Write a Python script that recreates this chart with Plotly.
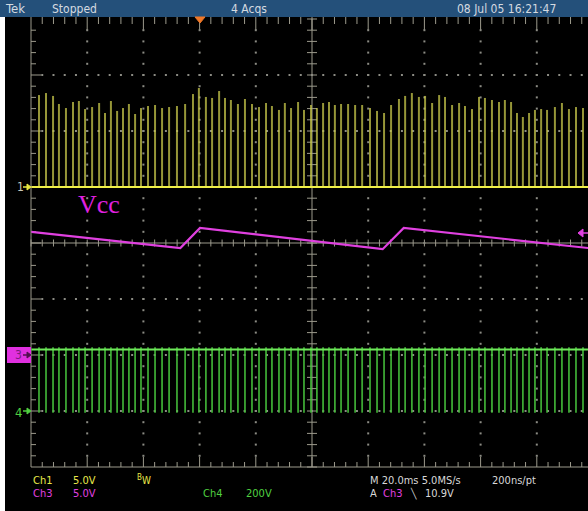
import plotly.graph_objects as go

W, H = 588, 511

# ---- screen geometry (pixels) ----
X_TRIG_PX = 200.0      # horizontal trigger position
X_DIV_PX = 56.2        # pixels per horizontal division
Y_DIV_PX = 56.0        # pixels per vertical division
GRAT_L, GRAT_T, GRAT_B = 31.0, 19.0, 467.0
GRAT_CX, GRAT_CY = 312.0, 243.0
MS_PER_DIV = 20.0

CH1_GND_PX, CH1_V_DIV = 187.0, 5.0
CH3_GND_PX, CH3_V_DIV = 355.0, 5.0
CH4_GND_PX, CH4_V_DIV = 411.0, 200.0

# ---- acquired data ----
# switching events (ms, relative to trigger)
switch_t_ms = [
    -57.3, -54.8, -52.3, -50.2, -47.7, -45.2, -43.1, -40.9, -38.4, -35.9,
    -33.8, -31.7, -29.5, -27.4, -25.3, -23.1, -21.0, -18.5, -16.0, -13.5,
    -11.0, -8.2, -5.3, -2.5, -0.4, 2.1, 4.3, 6.8, 8.9, 11.0,
    13.5, 16.0, 18.5, 21.0, 23.5, 25.6, 28.1, 30.2, 32.4, 34.9,
    37.0, 39.5, 41.6, 43.8, 45.9, 48.0, 50.2, 52.7, 55.2, 57.7,
    60.5, 63.0, 65.5, 68.0, 70.8, 73.0, 75.4, 77.9, 80.1, 82.6,
    85.1, 87.2, 89.7, 92.2, 94.3, 96.8, 99.3, 101.4, 103.9, 106.4,
    108.5, 110.7, 112.8, 114.9, 117.1, 119.2, 121.4, 123.5, 126.3, 128.8,
    131.3, 133.8, 136.3,
]
# Ch1 peak of each pulse (V)
ch1_peak_v = [
    8.21, 8.39, 8.13, 7.41, 7.05, 7.59, 7.68, 6.96, 7.14, 7.50,
    6.61, 7.68, 6.79, 7.05, 7.41, 6.52, 7.05, 7.23, 7.32, 7.05,
    7.14, 7.23, 7.41, 8.30, 8.84, 8.04, 7.95, 8.57, 7.95, 7.77,
    7.41, 7.86, 7.41, 7.14, 7.50, 7.23, 6.88, 7.50, 7.05, 7.59,
    6.88, 7.32, 7.05, 7.50, 7.59, 7.32, 7.41, 7.41, 7.32, 7.32,
    7.05, 6.79, 6.61, 7.32, 7.86, 8.13, 8.39, 8.04, 8.13, 7.50,
    8.21, 8.04, 7.32, 7.50, 7.23, 6.96, 8.04, 7.95, 7.77, 7.59,
    7.77, 7.59, 6.61, 6.25, 6.61, 6.88, 6.96, 6.88, 7.14, 7.50,
    6.96, 7.14, 7.05,
]
# Ch3 (Vcc) sawtooth corners
vcc_t_ms = [-60.0, -7.0, 0.0, 65.0, 72.5, 140.0]
vcc_v = [11.0, 9.55, 11.35, 9.45, 11.35, 9.5]
# Ch4 drain levels
ch4_bus_v = 220.0
ch4_pulse_top_v = 228.0
ch4_pulse_low_v = -6.0

trace_span_ms = [-60.0, 140.0]


def t_of_px(px):
    return (px - X_TRIG_PX) * MS_PER_DIV / X_DIV_PX


def v_range(gnd_px, v_div):
    return [(gnd_px - H) / Y_DIV_PX * v_div, gnd_px / Y_DIV_PX * v_div]


fig = go.Figure()

# ---------- graticule (pixel space on the main x/y axes) ----------
GRID = "#9c9a8c"
seg_x, seg_y = [], []


def seg(x0, y0, x1, y1):
    seg_x.extend([x0, x1, None])
    seg_y.extend([y0, y1, None])


seg(GRAT_L, 17, GRAT_L, GRAT_B)           # left border
seg(GRAT_L, GRAT_B, W, GRAT_B)            # bottom border
seg(GRAT_CX, GRAT_T, GRAT_CX, GRAT_B)     # centre vertical
seg(GRAT_L, GRAT_CY, W, GRAT_CY)          # centre horizontal

mx = X_DIV_PX / 5.0
my = Y_DIV_PX / 5.0
for k in range(0, 51):
    x = GRAT_L + k * mx
    if x > W:
        break
    major = k % 5 == 0
    if k > 0:
        seg(x, GRAT_T - 2, x, GRAT_T + (11 if major else 5))
        seg(x, GRAT_B, x, GRAT_B - (10 if major else 5))
    seg(x, GRAT_CY - 3.5, x, GRAT_CY + 3.5)
for k in range(0, 41):
    y = GRAT_T + k * my
    major = k % 5 == 0
    if 0 < k < 40:
        seg(GRAT_L, y, GRAT_L + (10 if major else 5), y)
    seg(GRAT_CX - 5, y, GRAT_CX + 5, y)

fig.add_trace(go.Scatter(x=seg_x, y=seg_y, mode="lines",
                         line=dict(color=GRID, width=1), hoverinfo="skip"))

dot_x, dot_y = [], []
for i in range(1, 10):
    if i == 5:
        continue
    x = GRAT_L + i * X_DIV_PX
    for k in range(1, 40):
        dot_x.append(x)
        dot_y.append(GRAT_T + k * my)
for j in range(1, 8):
    if j == 4:
        continue
    y = GRAT_T + j * Y_DIV_PX
    for k in range(1, 50):
        x = GRAT_L + k * mx
        if x > W:
            break
        dot_x.append(x)
        dot_y.append(y)
fig.add_trace(go.Scatter(x=dot_x, y=dot_y, mode="markers",
                         marker=dict(color="#8c8c84", size=2, symbol="square", line=dict(width=0)),
                         hoverinfo="skip"))

# ---------- Ch4 (green) ----------
c4x, c4y = [], []
for t in switch_t_ms:
    c4x.extend([t, t, None])
    c4y.extend([ch4_pulse_low_v, ch4_pulse_top_v, None])
fig.add_trace(go.Scatter(x=c4x, y=c4y, xaxis="x2", yaxis="y4", mode="lines",
                         line=dict(color="rgba(70,195,60,0.85)", width=1.8), hoverinfo="skip"))
fig.add_trace(go.Scatter(x=trace_span_ms, y=[ch4_bus_v, ch4_bus_v], xaxis="x2", yaxis="y4",
                         mode="lines", line=dict(color="#6ee85a", width=2), hoverinfo="skip"))

# ---------- Ch1 (yellow) ----------
c1x, c1y = [], []
for t, v in zip(switch_t_ms, ch1_peak_v):
    c1x.extend([t, t, None])
    c1y.extend([0, v, None])
fig.add_trace(go.Scatter(x=c1x, y=c1y, xaxis="x2", yaxis="y2", mode="lines",
                         line=dict(color="rgba(200,200,75,0.75)", width=2), hoverinfo="skip"))
fig.add_trace(go.Scatter(x=trace_span_ms, y=[0, 0], xaxis="x2", yaxis="y2", mode="lines",
                         line=dict(color="#f0f048", width=2), hoverinfo="skip"))

# ---------- Ch3 (magenta, Vcc) ----------
fig.add_trace(go.Scatter(x=vcc_t_ms, y=vcc_v, xaxis="x2", yaxis="y3", mode="lines",
                         line=dict(color="#e040e0", width=2.2), hoverinfo="skip"))

# ---------- decorations (pixel space) ----------
shapes = []


def rect(x0, y0, x1, y1, color):
    shapes.append(dict(type="rect", xref="x", yref="y", x0=x0, y0=y0, x1=x1, y1=y1,
                       fillcolor=color, line=dict(width=0), layer="above"))


def path(d, color):
    shapes.append(dict(type="path", xref="x", yref="y", path=d,
                       fillcolor=color, line=dict(color=color, width=1), layer="above"))


def line(x0, y0, x1, y1, color, w=1.5):
    shapes.append(dict(type="line", xref="x", yref="y", x0=x0, y0=y0, x1=x1, y1=y1,
                       line=dict(color=color, width=w), layer="above"))


rect(0, 0, W, 17, "#24507a")
rect(0, 17, 5, H, "#ffffff")

# trigger position
path("M 195,17 L 205,17 L 200,23 Z", "#f07828")
# trigger level
path("M 583,229 L 583,237 L 578,233 Z", "#e040e0")
line(583, 233, W, 233, "#e040e0")

# channel ground markers
line(23, 187, 28, 187, "#e8e840")
path("M 27,184 L 31,187 L 27,190 Z", "#e8e840")
rect(7, 347, 31, 363, "#e030e0")
line(23, 355, 28, 355, "#501050")
path("M 27,352 L 31,355 L 27,358 Z", "#501050")
line(23, 411, 28, 411, "#50d040")
path("M 27,408 L 31,411 L 27,414 Z", "#50d040")

ann = []
FONT = "Liberation Sans Narrow, DejaVu Sans Condensed, Arial Narrow, sans-serif"


def text(px, py, s, color, size=12, family=FONT, anchor="left"):
    ann.append(dict(x=px / W, y=1 - py / H, xref="paper", yref="paper", text=s,
                    showarrow=False, xanchor=anchor, yanchor="middle",
                    font=dict(color=color, size=size, family=family)))


HDR = "#d4dae0"
text(3, 9, "Tek", HDR, 13)
text(50, 9, "Stopped", HDR, 12)
text(229, 9, "4 Acqs", HDR, 12)
text(455, 9, "08 Jul 05 16:21:47", HDR, 12)

text(15, 187, "1", "#c8c8b8", 12)
text(13, 355, "3", "#7a1a80", 12)
text(13, 412, "4", "#50d040", 13)

text(76, 204, "Vcc", "#e020e0", 26, "Liberation Serif, Times New Roman, serif")

YEL, MAG, GRN, WHT = "#e8e84a", "#e040e0", "#50d040", "#d8d8d8"
text(31, 480, "Ch1", YEL, 11)
text(71, 480, "5.0V", YEL, 11)
text(135, 477, "B", YEL, 8)
text(140, 480, "W", YEL, 10)
text(31, 493, "Ch3", MAG, 11)
text(71, 493, "5.0V", MAG, 11)
text(201, 493, "Ch4", GRN, 11)
text(244, 493, "200V", GRN, 11)
text(368, 480, "M 20.0ms 5.0MS/s", WHT, 11)
text(490, 480, "200ns/pt", WHT, 11)
text(368, 493, "A", WHT, 11)
text(381, 493, "Ch3", MAG, 11)
text(408, 493, "\u2572", WHT, 10)
text(423, 493, "10.9V", WHT, 11)

hidden = dict(visible=False, showgrid=False, zeroline=False, fixedrange=True)
fig.update_layout(
    width=W, height=H,
    margin=dict(l=0, r=0, t=0, b=0),
    paper_bgcolor="#000000", plot_bgcolor="#000000",
    showlegend=False,
    xaxis=dict(range=[0, W], domain=[0, 1], anchor="y", **hidden),
    yaxis=dict(range=[H, 0], domain=[0, 1], anchor="x", **hidden),
    xaxis2=dict(range=[t_of_px(0), t_of_px(W)], overlaying="x", anchor="y", **hidden),
    yaxis2=dict(range=v_range(CH1_GND_PX, CH1_V_DIV), overlaying="y", anchor="x", **hidden),
    yaxis3=dict(range=v_range(CH3_GND_PX, CH3_V_DIV), overlaying="y", anchor="x", **hidden),
    yaxis4=dict(range=v_range(CH4_GND_PX, CH4_V_DIV), overlaying="y", anchor="x", **hidden),
    shapes=shapes,
    annotations=ann,
)

fig.write_html("out.html")
